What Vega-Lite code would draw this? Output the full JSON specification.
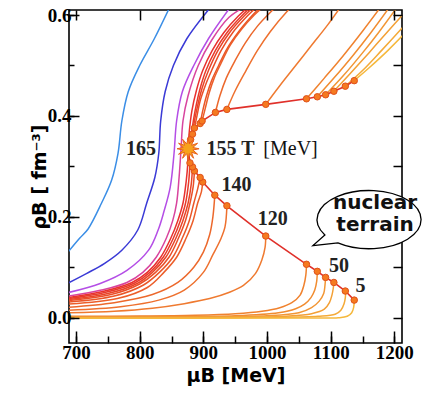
{
"$schema": "https://vega.github.io/schema/vega-lite/v6.json",
"width": 333, "height": 333,
"autosize": {"type": "none"},
"padding": {"left": 69, "top": 10, "right": 23, "bottom": 55},
"config": {"view": {"stroke": "black", "strokeWidth": 1.6}, "axis": {"grid": false, "domain": false, "tickColor": "black", "tickWidth": 1.5, "labelColor": "black", "titleColor": "black"}},
"datasets": {
"curves": [
{"c":"L","s":"La","x":688,"y":0.131},{"c":"L","s":"La","x":706,"y":0.158},{"c":"L","s":"La","x":719,"y":0.176},{"c":"L","s":"La","x":740,"y":0.227},{"c":"L","s":"La","x":756,"y":0.273},{"c":"L","s":"La","x":766,"y":0.326},{"c":"L","s":"La","x":772,"y":0.39},{"c":"L","s":"La","x":782,"y":0.448},{"c":"L","s":"La","x":800,"y":0.5},{"c":"L","s":"La","x":823,"y":0.553},{"c":"L","s":"La","x":847,"y":0.615},
{"c":"D","s":"Da","x":688,"y":0.069},{"c":"D","s":"Da","x":717,"y":0.088},{"c":"D","s":"Da","x":745,"y":0.108},{"c":"D","s":"Da","x":772,"y":0.134},{"c":"D","s":"Da","x":797,"y":0.174},{"c":"D","s":"Da","x":811,"y":0.227},{"c":"D","s":"Da","x":824,"y":0.279},{"c":"D","s":"Da","x":830,"y":0.326},{"c":"D","s":"Da","x":833,"y":0.39},{"c":"D","s":"Da","x":840,"y":0.448},{"c":"D","s":"Da","x":853,"y":0.5},{"c":"D","s":"Da","x":874,"y":0.553},{"c":"D","s":"Da","x":911,"y":0.615},
{"c":"P","s":"Pa","x":688,"y":0.05},{"c":"P","s":"Pa","x":738,"y":0.068},{"c":"P","s":"Pa","x":780,"y":0.094},{"c":"P","s":"Pa","x":814,"y":0.134},{"c":"P","s":"Pa","x":829,"y":0.174},{"c":"P","s":"Pa","x":838,"y":0.21},{"c":"P","s":"Pa","x":848,"y":0.259},{"c":"P","s":"Pa","x":854,"y":0.326},{"c":"P","s":"Pa","x":858,"y":0.39},{"c":"P","s":"Pa","x":867,"y":0.448},{"c":"P","s":"Pa","x":885,"y":0.5},{"c":"P","s":"Pa","x":908,"y":0.553},{"c":"P","s":"Pa","x":942,"y":0.615},
{"c":"M","s":"Ma","x":688,"y":0.043},{"c":"M","s":"Ma","x":740,"y":0.055},{"c":"M","s":"Ma","x":780,"y":0.07},{"c":"M","s":"Ma","x":805,"y":0.09},{"c":"M","s":"Ma","x":826,"y":0.12},{"c":"M","s":"Ma","x":842,"y":0.158},{"c":"M","s":"Ma","x":852,"y":0.193},{"c":"M","s":"Ma","x":858,"y":0.227},{"c":"M","s":"Ma","x":862,"y":0.28},{"c":"M","s":"Ma","x":865,"y":0.335},{"c":"M","s":"Ma","x":868,"y":0.39},{"c":"M","s":"Ma","x":876,"y":0.44},{"c":"M","s":"Ma","x":892,"y":0.5},{"c":"M","s":"Ma","x":913,"y":0.55},{"c":"M","s":"Ma","x":940,"y":0.595},{"c":"M","s":"Ma","x":963,"y":0.615},
{"c":"K","s":"Ka","x":688,"y":0.04},{"c":"K","s":"Ka","x":742,"y":0.052},{"c":"K","s":"Ka","x":788,"y":0.07},{"c":"K","s":"Ka","x":812,"y":0.09},{"c":"K","s":"Ka","x":833,"y":0.12},{"c":"K","s":"Ka","x":849,"y":0.158},{"c":"K","s":"Ka","x":860,"y":0.193},{"c":"K","s":"Ka","x":868,"y":0.227},{"c":"K","s":"Ka","x":873,"y":0.27},{"c":"K","s":"Ka","x":875.5,"y":0.305},{"c":"K","s":"Ka","x":876,"y":0.335},{"c":"K","s":"Ka","x":878,"y":0.37},{"c":"K","s":"Ka","x":882,"y":0.41},{"c":"K","s":"Ka","x":889,"y":0.45},{"c":"K","s":"Ka","x":899,"y":0.49},{"c":"K","s":"Ka","x":914,"y":0.53},{"c":"K","s":"Ka","x":932,"y":0.565},{"c":"K","s":"Ka","x":955,"y":0.598},{"c":"K","s":"Ka","x":970,"y":0.615},
{"c":"T154","s":"T154a","x":688,"y":0.038},{"c":"T154","s":"T154a","x":745,"y":0.05},{"c":"T154","s":"T154a","x":792,"y":0.069},{"c":"T154","s":"T154a","x":816,"y":0.09},{"c":"T154","s":"T154a","x":837,"y":0.12},{"c":"T154","s":"T154a","x":853,"y":0.158},{"c":"T154","s":"T154a","x":864,"y":0.193},{"c":"T154","s":"T154a","x":872,"y":0.227},{"c":"T154","s":"T154a","x":877,"y":0.27},{"c":"T154","s":"T154a","x":879,"y":0.307},
{"c":"T154","s":"T154b","x":880,"y":0.353},{"c":"T154","s":"T154b","x":883,"y":0.38},{"c":"T154","s":"T154b","x":887,"y":0.41},{"c":"T154","s":"T154b","x":894,"y":0.45},{"c":"T154","s":"T154b","x":904,"y":0.49},{"c":"T154","s":"T154b","x":919,"y":0.53},{"c":"T154","s":"T154b","x":937,"y":0.565},{"c":"T154","s":"T154b","x":960,"y":0.598},{"c":"T154","s":"T154b","x":974,"y":0.615},
{"c":"T152","s":"T152a","x":688,"y":0.036},{"c":"T152","s":"T152a","x":750,"y":0.048},{"c":"T152","s":"T152a","x":796,"y":0.068},{"c":"T152","s":"T152a","x":820,"y":0.09},{"c":"T152","s":"T152a","x":841,"y":0.12},{"c":"T152","s":"T152a","x":857,"y":0.158},{"c":"T152","s":"T152a","x":868,"y":0.193},{"c":"T152","s":"T152a","x":876,"y":0.227},{"c":"T152","s":"T152a","x":881,"y":0.265},{"c":"T152","s":"T152a","x":883,"y":0.299},
{"c":"T152","s":"T152b","x":883,"y":0.364},{"c":"T152","s":"T152b","x":886,"y":0.39},{"c":"T152","s":"T152b","x":891,"y":0.42},{"c":"T152","s":"T152b","x":898,"y":0.455},{"c":"T152","s":"T152b","x":908,"y":0.49},{"c":"T152","s":"T152b","x":923,"y":0.53},{"c":"T152","s":"T152b","x":941,"y":0.565},{"c":"T152","s":"T152b","x":964,"y":0.598},{"c":"T152","s":"T152b","x":978,"y":0.615},
{"c":"T150","s":"T150a","x":688,"y":0.034},{"c":"T150","s":"T150a","x":755,"y":0.046},{"c":"T150","s":"T150a","x":800,"y":0.067},{"c":"T150","s":"T150a","x":825,"y":0.09},{"c":"T150","s":"T150a","x":846,"y":0.12},{"c":"T150","s":"T150a","x":861,"y":0.158},{"c":"T150","s":"T150a","x":872,"y":0.193},{"c":"T150","s":"T150a","x":879,"y":0.227},{"c":"T150","s":"T150a","x":884,"y":0.26},{"c":"T150","s":"T150a","x":886,"y":0.291},
{"c":"T150","s":"T150b","x":886,"y":0.376},{"c":"T150","s":"T150b","x":890,"y":0.4},{"c":"T150","s":"T150b","x":895,"y":0.43},{"c":"T150","s":"T150b","x":903,"y":0.46},{"c":"T150","s":"T150b","x":913,"y":0.49},{"c":"T150","s":"T150b","x":928,"y":0.53},{"c":"T150","s":"T150b","x":946,"y":0.565},{"c":"T150","s":"T150b","x":969,"y":0.598},{"c":"T150","s":"T150b","x":983,"y":0.615},
{"c":"T147","s":"T147a","x":688,"y":0.031},{"c":"T147","s":"T147a","x":760,"y":0.043},{"c":"T147","s":"T147a","x":806,"y":0.065},{"c":"T147","s":"T147a","x":831,"y":0.09},{"c":"T147","s":"T147a","x":852,"y":0.12},{"c":"T147","s":"T147a","x":867,"y":0.158},{"c":"T147","s":"T147a","x":878,"y":0.193},{"c":"T147","s":"T147a","x":885,"y":0.227},{"c":"T147","s":"T147a","x":891,"y":0.255},{"c":"T147","s":"T147a","x":895,"y":0.278},
{"c":"T147","s":"T147b","x":895,"y":0.385},{"c":"T147","s":"T147b","x":899,"y":0.41},{"c":"T147","s":"T147b","x":905,"y":0.44},{"c":"T147","s":"T147b","x":913,"y":0.47},{"c":"T147","s":"T147b","x":924,"y":0.5},{"c":"T147","s":"T147b","x":938,"y":0.535},{"c":"T147","s":"T147b","x":956,"y":0.568},{"c":"T147","s":"T147b","x":976,"y":0.598},{"c":"T147","s":"T147b","x":989,"y":0.615},
{"c":"T145","s":"T145a","x":688,"y":0.027},{"c":"T145","s":"T145a","x":765,"y":0.038},{"c":"T145","s":"T145a","x":812,"y":0.06},{"c":"T145","s":"T145a","x":838,"y":0.09},{"c":"T145","s":"T145a","x":858,"y":0.12},{"c":"T145","s":"T145a","x":873,"y":0.158},{"c":"T145","s":"T145a","x":884,"y":0.193},{"c":"T145","s":"T145a","x":891,"y":0.227},{"c":"T145","s":"T145a","x":897,"y":0.25},{"c":"T145","s":"T145a","x":899,"y":0.269},
{"c":"T145","s":"T145b","x":898,"y":0.39},{"c":"T145","s":"T145b","x":903,"y":0.415},{"c":"T145","s":"T145b","x":909,"y":0.445},{"c":"T145","s":"T145b","x":917,"y":0.475},{"c":"T145","s":"T145b","x":928,"y":0.505},{"c":"T145","s":"T145b","x":942,"y":0.54},{"c":"T145","s":"T145b","x":960,"y":0.572},{"c":"T145","s":"T145b","x":980,"y":0.6},{"c":"T145","s":"T145b","x":993,"y":0.615},
{"c":"T140","s":"T140a","x":688,"y":0.021},{"c":"T140","s":"T140a","x":760,"y":0.03},{"c":"T140","s":"T140a","x":820,"y":0.046},{"c":"T140","s":"T140a","x":860,"y":0.07},{"c":"T140","s":"T140a","x":885,"y":0.1},{"c":"T140","s":"T140a","x":900,"y":0.13},{"c":"T140","s":"T140a","x":910,"y":0.165},{"c":"T140","s":"T140a","x":915,"y":0.2},{"c":"T140","s":"T140a","x":918,"y":0.243},
{"c":"T140","s":"T140b","x":919,"y":0.407},{"c":"T140","s":"T140b","x":926,"y":0.44},{"c":"T140","s":"T140b","x":936,"y":0.475},{"c":"T140","s":"T140b","x":950,"y":0.51},{"c":"T140","s":"T140b","x":966,"y":0.545},{"c":"T140","s":"T140b","x":985,"y":0.578},{"c":"T140","s":"T140b","x":1005,"y":0.605},{"c":"T140","s":"T140b","x":1016,"y":0.618},
{"c":"T130","s":"T130a","x":688,"y":0.015},{"c":"T130","s":"T130a","x":770,"y":0.022},{"c":"T130","s":"T130a","x":830,"y":0.035},{"c":"T130","s":"T130a","x":870,"y":0.055},{"c":"T130","s":"T130a","x":900,"y":0.09},{"c":"T130","s":"T130a","x":915,"y":0.125},{"c":"T130","s":"T130a","x":927,"y":0.155},{"c":"T130","s":"T130a","x":934,"y":0.18},{"c":"T130","s":"T130a","x":937,"y":0.222},
{"c":"T130","s":"T130b","x":937,"y":0.413},{"c":"T130","s":"T130b","x":950,"y":0.45},{"c":"T130","s":"T130b","x":967,"y":0.49},{"c":"T130","s":"T130b","x":985,"y":0.53},{"c":"T130","s":"T130b","x":1005,"y":0.567},{"c":"T130","s":"T130b","x":1030,"y":0.605},{"c":"T130","s":"T130b","x":1042,"y":0.62},
{"c":"T120","s":"T120a","x":688,"y":0.01},{"c":"T120","s":"T120a","x":760,"y":0.013},{"c":"T120","s":"T120a","x":820,"y":0.019},{"c":"T120","s":"T120a","x":870,"y":0.028},{"c":"T120","s":"T120a","x":910,"y":0.038},{"c":"T120","s":"T120a","x":940,"y":0.05},{"c":"T120","s":"T120a","x":963,"y":0.064},{"c":"T120","s":"T120a","x":982,"y":0.088},{"c":"T120","s":"T120a","x":992,"y":0.115},{"c":"T120","s":"T120a","x":997,"y":0.14},{"c":"T120","s":"T120a","x":998,"y":0.162},
{"c":"T120","s":"T120b","x":998,"y":0.423},{"c":"T120","s":"T120b","x":1020,"y":0.46},{"c":"T120","s":"T120b","x":1045,"y":0.5},{"c":"T120","s":"T120b","x":1070,"y":0.54},{"c":"T120","s":"T120b","x":1095,"y":0.58},{"c":"T120","s":"T120b","x":1115,"y":0.615},
{"c":"T60","s":"T60a","x":688,"y":0.003},{"c":"T60","s":"T60a","x":800,"y":0.0035},{"c":"T60","s":"T60a","x":887,"y":0.005},{"c":"T60","s":"T60a","x":950,"y":0.008},{"c":"T60","s":"T60a","x":992,"y":0.013},{"c":"T60","s":"T60a","x":1020,"y":0.02},{"c":"T60","s":"T60a","x":1039,"y":0.03},{"c":"T60","s":"T60a","x":1052,"y":0.045},{"c":"T60","s":"T60a","x":1058,"y":0.065},{"c":"T60","s":"T60a","x":1061,"y":0.085},{"c":"T60","s":"T60a","x":1062,"y":0.106},
{"c":"T60","s":"T60b","x":1062,"y":0.434},{"c":"T60","s":"T60b","x":1090,"y":0.475},{"c":"T60","s":"T60b","x":1120,"y":0.52},{"c":"T60","s":"T60b","x":1150,"y":0.568},{"c":"T60","s":"T60b","x":1178,"y":0.615},
{"c":"T50","s":"T50a","x":688,"y":0.002},{"c":"T50","s":"T50a","x":850,"y":0.0025},{"c":"T50","s":"T50a","x":950,"y":0.004},{"c":"T50","s":"T50a","x":1018,"y":0.01},{"c":"T50","s":"T50a","x":1045,"y":0.018},{"c":"T50","s":"T50a","x":1059,"y":0.027},{"c":"T50","s":"T50a","x":1069,"y":0.04},{"c":"T50","s":"T50a","x":1075,"y":0.055},{"c":"T50","s":"T50a","x":1078,"y":0.072},{"c":"T50","s":"T50a","x":1079,"y":0.092},
{"c":"T50","s":"T50b","x":1079,"y":0.438},{"c":"T50","s":"T50b","x":1105,"y":0.475},{"c":"T50","s":"T50b","x":1135,"y":0.52},{"c":"T50","s":"T50b","x":1163,"y":0.565},{"c":"T50","s":"T50b","x":1192,"y":0.615},
{"c":"T40","s":"T40a","x":688,"y":0.001},{"c":"T40","s":"T40a","x":900,"y":0.002},{"c":"T40","s":"T40a","x":1000,"y":0.004},{"c":"T40","s":"T40a","x":1050,"y":0.01},{"c":"T40","s":"T40a","x":1070,"y":0.02},{"c":"T40","s":"T40a","x":1082,"y":0.033},{"c":"T40","s":"T40a","x":1089,"y":0.048},{"c":"T40","s":"T40a","x":1091,"y":0.064},{"c":"T40","s":"T40a","x":1092,"y":0.08},
{"c":"T40","s":"T40b","x":1092,"y":0.442},{"c":"T40","s":"T40b","x":1120,"y":0.48},{"c":"T40","s":"T40b","x":1150,"y":0.525},{"c":"T40","s":"T40b","x":1175,"y":0.565},{"c":"T40","s":"T40b","x":1204,"y":0.615},
{"c":"T30","s":"T30a","x":688,"y":0.0005},{"c":"T30","s":"T30a","x":950,"y":0.001},{"c":"T30","s":"T30a","x":1030,"y":0.003},{"c":"T30","s":"T30a","x":1070,"y":0.008},{"c":"T30","s":"T30a","x":1090,"y":0.017},{"c":"T30","s":"T30a","x":1098,"y":0.03},{"c":"T30","s":"T30a","x":1102,"y":0.045},{"c":"T30","s":"T30a","x":1104,"y":0.058},{"c":"T30","s":"T30a","x":1105,"y":0.07},
{"c":"T30","s":"T30b","x":1105,"y":0.449},{"c":"T30","s":"T30b","x":1130,"y":0.483},{"c":"T30","s":"T30b","x":1160,"y":0.525},{"c":"T30","s":"T30b","x":1190,"y":0.568},{"c":"T30","s":"T30b","x":1215,"y":0.603},
{"c":"T20","s":"T20a","x":688,"y":0},{"c":"T20","s":"T20a","x":1000,"y":0.001},{"c":"T20","s":"T20a","x":1080,"y":0.003},{"c":"T20","s":"T20a","x":1107,"y":0.007},{"c":"T20","s":"T20a","x":1116,"y":0.015},{"c":"T20","s":"T20a","x":1121,"y":0.028},{"c":"T20","s":"T20a","x":1123,"y":0.04},{"c":"T20","s":"T20a","x":1123.5,"y":0.053},
{"c":"T20","s":"T20b","x":1123,"y":0.459},{"c":"T20","s":"T20b","x":1150,"y":0.49},{"c":"T20","s":"T20b","x":1180,"y":0.53},{"c":"T20","s":"T20b","x":1215,"y":0.578},
{"c":"T5","s":"T5a","x":688,"y":-0.001},{"c":"T5","s":"T5a","x":1060,"y":-0.0005},{"c":"T5","s":"T5a","x":1112,"y":0},{"c":"T5","s":"T5a","x":1126,"y":0.003},{"c":"T5","s":"T5a","x":1133,"y":0.01},{"c":"T5","s":"T5a","x":1136,"y":0.02},{"c":"T5","s":"T5a","x":1137,"y":0.035},
{"c":"T5","s":"T5b","x":1137,"y":0.47},{"c":"T5","s":"T5b","x":1160,"y":0.495},{"c":"T5","s":"T5b","x":1190,"y":0.53},{"c":"T5","s":"T5b","x":1215,"y":0.562}
],
"bnd": [
{"x":1137,"y":0.035},{"x":1123,"y":0.053},{"x":1105,"y":0.07},{"x":1092,"y":0.08},{"x":1079,"y":0.092},{"x":1062,"y":0.106},{"x":998,"y":0.162},{"x":937,"y":0.222},{"x":918,"y":0.243},{"x":899,"y":0.269},{"x":895,"y":0.278},{"x":886,"y":0.291},{"x":883,"y":0.299},{"x":879,"y":0.307},
{"x":880,"y":0.353},{"x":883,"y":0.364},{"x":886,"y":0.376},{"x":895,"y":0.385},{"x":898,"y":0.39},{"x":919,"y":0.407},{"x":937,"y":0.413},{"x":998,"y":0.423},{"x":1062,"y":0.434},{"x":1079,"y":0.438},{"x":1092,"y":0.442},{"x":1105,"y":0.449},{"x":1123,"y":0.459},{"x":1137,"y":0.47}
],
"bline": [
{"x":1137,"y":0.035},{"x":1123,"y":0.053},{"x":1105,"y":0.07},{"x":1092,"y":0.08},{"x":1079,"y":0.092},{"x":1062,"y":0.106},{"x":998,"y":0.162},{"x":937,"y":0.222},{"x":918,"y":0.243},{"x":899,"y":0.269},{"x":895,"y":0.278},{"x":886,"y":0.291},{"x":883,"y":0.299},{"x":879,"y":0.307},{"x":876,"y":0.335},
{"x":880,"y":0.353},{"x":883,"y":0.364},{"x":886,"y":0.376},{"x":895,"y":0.385},{"x":898,"y":0.39},{"x":919,"y":0.407},{"x":937,"y":0.413},{"x":998,"y":0.423},{"x":1062,"y":0.434},{"x":1079,"y":0.438},{"x":1092,"y":0.442},{"x":1105,"y":0.449},{"x":1123,"y":0.459},{"x":1137,"y":0.47}
],
"boldlab": [
{"t":"165","x":802,"y":0.335},{"t":"155 T","x":942.7,"y":0.335},{"t":"140","x":952,"y":0.263},{"t":"120","x":1009,"y":0.195},{"t":"50","x":1113,"y":0.102},{"t":"5","x":1147,"y":0.063}
],
"reglab": [{"t":"[MeV]","x":1037,"y":0.335}],
"star": [{"x":876,"y":0.335}],
"bubble": [{"x":1160.3,"y":0.1945}],
"bubtext": [{"t":"nuclear","x":1169.7,"y":0.228},{"t":"terrain","x":1169.7,"y":0.1836}]
},
"resolve": {"axis": {"x": "independent", "y": "independent"}},
"layer": [
{"data": {"name": "curves"},
 "mark": {"type": "line", "clip": true, "interpolate": "catmull-rom", "strokeWidth": 1.5},
 "encoding": {
  "x": {"field": "x", "type": "quantitative", "scale": {"domain": [689, 1212], "nice": false, "zero": false},
        "axis": {"orient": "bottom", "values": [700, 750, 800, 850, 900, 950, 1000, 1050, 1100, 1150, 1200], "labelExpr": "datum.value % 100 === 0 ? datum.label : ''", "format": "d", "ticks": true, "tickSize": -7, "labelPadding": 7, "labelFont": "Liberation Serif", "labelFontWeight": "bold", "labelFontSize": 19, "labelFlush": false, "labelOverlap": false, "title": "μB [MeV]", "titleFont": "DejaVu Sans", "titleFontSize": 19, "titleFontWeight": "bold", "titlePadding": 4, "zindex": 2}},
  "y": {"field": "y", "type": "quantitative", "scale": {"domain": [-0.05, 0.61], "nice": false, "zero": false},
        "axis": {"orient": "left", "values": [0, 0.1, 0.2, 0.3, 0.4, 0.5, 0.6], "labelExpr": "round(datum.value * 10) % 2 === 0 ? datum.label : ''", "format": ".1f", "ticks": true, "tickSize": -5, "labelPadding": 3, "labelFont": "Liberation Serif", "labelFontWeight": "bold", "labelFontSize": 19, "labelFlush": false, "labelOverlap": false, "title": "ρB [ fm⁻³]", "titleFont": "DejaVu Sans", "titleFontSize": 19, "titleFontWeight": "bold", "titlePadding": -2, "zindex": 2}},
  "color": {"field": "c", "type": "nominal", "legend": null,
    "scale": {"domain": ["L","D","P","M","K","T154","T152","T150","T147","T145","T140","T130","T120","T60","T50","T40","T30","T20","T5"],
              "range": ["#3b8ee6","#3a3ad6","#b44ee6","#d8449e","#e8302e","#e83a2a","#e84428","#ea4e28","#ea5628","#ec5e2a","#ec682c","#ee702e","#ef7a30","#f0822e","#f18c30","#f29634","#f3a036","#f4aa38","#f5b83c"]}},
  "detail": {"field": "s", "type": "nominal"},
  "order": [{"field": "y", "type": "quantitative"}, {"field": "x", "type": "quantitative"}]
 }},
{"data": {"name": "bline"},
 "mark": {"type": "line", "clip": true, "color": "#e0302a", "strokeWidth": 1.6},
 "encoding": {
  "x": {"field": "x", "type": "quantitative", "axis": {"orient": "top", "values": [700, 800, 900, 1000, 1100, 1200], "ticks": true, "tickSize": 10, "offset": -10, "labels": false, "title": null, "zindex": 2}},
  "y": {"field": "y", "type": "quantitative", "axis": {"orient": "right", "values": [0, 0.1, 0.3, 0.4, 0.5, 0.6], "ticks": true, "tickSize": 9, "offset": -9, "labels": false, "title": null, "zindex": 2}},
  "order": {"field": "y", "type": "quantitative"}
 }},
{"data": {"name": "bnd"},
 "mark": {"type": "point", "filled": true, "size": 42, "fill": "#f57a20", "stroke": "#e0501a", "strokeWidth": 1, "opacity": 1},
 "encoding": {
  "x": {"field": "x", "type": "quantitative", "axis": {"orient": "bottom", "values": [700, 800, 900, 1000, 1100, 1200], "ticks": true, "tickSize": 12, "offset": -12, "labels": false, "title": null, "zindex": 2}},
  "y": {"field": "y", "type": "quantitative", "axis": {"orient": "left", "values": [0, 0.2, 0.4, 0.6], "ticks": true, "tickSize": 10, "offset": -10, "labels": false, "title": null, "zindex": 2}}
 }},
{"data": {"name": "star"},
 "mark": {"type": "point", "shape": "M0,-1L0.116,-0.435L0.5,-0.866L0.318,-0.318L0.866,-0.5L0.435,-0.116L1,0L0.435,0.116L0.866,0.5L0.318,0.318L0.5,0.866L0.116,0.435L0,1L-0.116,0.435L-0.5,0.866L-0.318,0.318L-0.866,0.5L-0.435,0.116L-1,0L-0.435,-0.116L-0.866,-0.5L-0.318,-0.318L-0.5,-0.866L-0.116,-0.435Z", "filled": true, "size": 484, "fill": "#f7a21b", "stroke": "#e8601c", "strokeWidth": 1, "opacity": 1},
 "encoding": {
  "x": {"field": "x", "type": "quantitative", "axis": null},
  "y": {"field": "y", "type": "quantitative", "axis": null}
 }},
{"data": {"name": "boldlab"},
 "mark": {"type": "text", "font": "Liberation Serif", "fontWeight": "bold", "fontSize": 20, "color": "#222222", "align": "center", "baseline": "middle", "clip": false},
 "encoding": {
  "x": {"field": "x", "type": "quantitative", "axis": null},
  "y": {"field": "y", "type": "quantitative", "axis": null},
  "text": {"field": "t"}
 }},
{"data": {"name": "reglab"},
 "mark": {"type": "text", "font": "Liberation Serif", "fontWeight": "normal", "fontSize": 20, "color": "#111111", "align": "center", "baseline": "middle", "clip": false},
 "encoding": {
  "x": {"field": "x", "type": "quantitative", "axis": null},
  "y": {"field": "y", "type": "quantitative", "axis": null},
  "text": {"field": "t"}
 }},
{"data": {"name": "bubble"},
 "mark": {"type": "point", "shape": "M-0.85,0.295A1,0.56 0 1 1 -0.6,0.448L-1.08,0.5Z", "filled": true, "size": 10816, "fill": "white", "stroke": "black", "strokeWidth": 1.3, "opacity": 1, "clip": false},
 "encoding": {
  "x": {"field": "x", "type": "quantitative", "axis": null},
  "y": {"field": "y", "type": "quantitative", "axis": null}
 }},
{"data": {"name": "bubtext"},
 "mark": {"type": "text", "font": "DejaVu Sans", "fontWeight": "bold", "fontSize": 20, "color": "#111111", "align": "center", "baseline": "middle", "clip": false},
 "encoding": {
  "x": {"field": "x", "type": "quantitative", "axis": null},
  "y": {"field": "y", "type": "quantitative", "axis": null},
  "text": {"field": "t"}
 }}
]
}
